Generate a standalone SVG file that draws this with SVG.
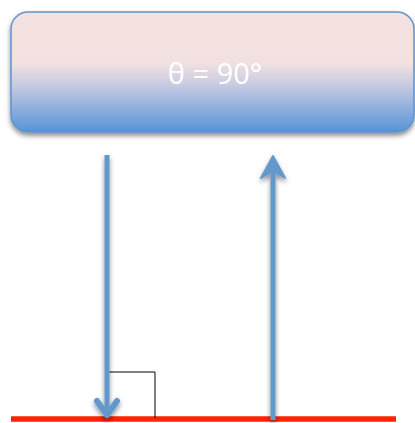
<svg xmlns="http://www.w3.org/2000/svg" width="415" height="423" viewBox="0 0 415 423">
<defs>
<linearGradient id="g" x1="0" y1="0" x2="0" y2="1">
<stop offset="0" stop-color="#F4E2E1"/>
<stop offset="0.42" stop-color="#F3E1E1"/>
<stop offset="0.6" stop-color="#C9CCE2"/>
<stop offset="1" stop-color="#5693D7"/>
</linearGradient>
<filter id="sh" x="-10%" y="-10%" width="130%" height="140%">
<feGaussianBlur in="SourceAlpha" stdDeviation="2.5"/>
<feOffset dx="0" dy="3" result="b"/>
<feComponentTransfer><feFuncA type="linear" slope="0.45"/></feComponentTransfer>
<feMerge><feMergeNode/><feMergeNode in="SourceGraphic"/></feMerge>
</filter>
<style>
.arr{stroke:#6498CC;stroke-width:5;fill:none;stroke-linecap:butt}
.head{fill:#6498CC;stroke:#6498CC;stroke-width:2;stroke-linejoin:round}
</style>
</defs>
<rect width="415" height="423" fill="#fff"/>
<g id="box" filter="url(#sh)">
<rect x="11" y="12" width="403" height="120" rx="17" fill="url(#g)" stroke="#6193CB" stroke-width="1.5"/>
<text x="215" y="84" font-family="'Noto Sans','DejaVu Sans',sans-serif" font-size="29" fill="#fff" text-anchor="middle">θ = 90°</text>
</g>
<g id="ground">
<line x1="11" y1="419" x2="396" y2="419" stroke="#FF2200" stroke-width="5.5"/>
<polyline points="107,372 155,372 155,418" fill="none" stroke="#000" stroke-width="1"/>
</g>
<g id="connectors" filter="url(#sh)">
<line class="arr" x1="107" y1="155" x2="107" y2="414"/>
<polyline points="97,401 107,415 117,401" fill="none" stroke="#6498CC" stroke-width="6" stroke-linecap="round" stroke-linejoin="round"/>
<line class="arr" x1="273" y1="420" x2="273" y2="170"/>
<path class="head" d="M273,156 L285,178 L273,171 L261,178 Z"/>
</g>
</svg>
